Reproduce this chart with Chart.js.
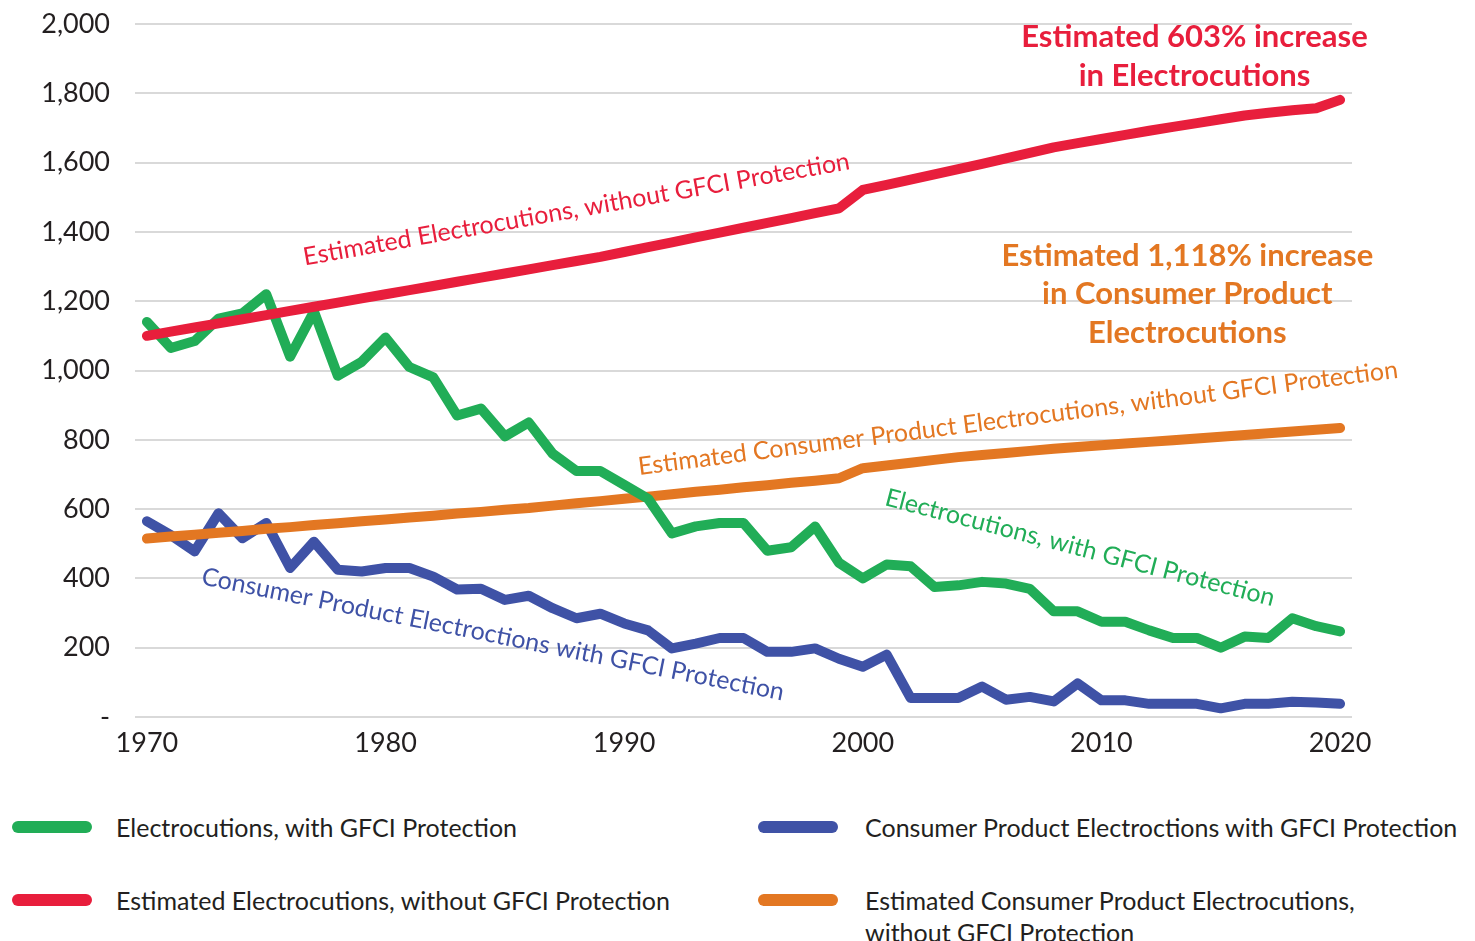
<!DOCTYPE html>
<html>
<head>
<meta charset="utf-8">
<title>Electrocutions with and without GFCI protection</title>
<script src="https://cdn.jsdelivr.net/npm/chart.js@4.4.1/dist/chart.umd.min.js"></script>
<style>
  body { margin: 0; background: #fff; font-family: Lato, sans-serif; }
  #wrap { position: relative; width: 1475px; height: 941px; overflow: hidden; }
  #c { position: absolute; left: 0; top: 0; }
  .lg-text { position: absolute; font-size: 25px; line-height: 32px; color: #231f20; white-space: nowrap; }
  .lg-swatch { position: absolute; width: 80px; height: 12px; border-radius: 6px; }
</style>
</head>
<body>
<div id="wrap">
  <canvas id="c" width="1475" height="780"></canvas>
  <div id="legend"></div>
</div>
<script>
// ---- data ----
var years = ['1970','1971','1972','1973','1974','1975','1976','1977','1978','1979',
             '1980','1981','1982','1983','1984','1985','1986','1987','1988','1989',
             '1990','1991','1992','1993','1994','1995','1996','1997','1998','1999',
             '2000','2001','2002','2003','2004','2005','2006','2007','2008','2009',
             '2010','2011','2012','2013','2014','2015','2016','2017','2018','2019','2020'];

var xTickLabels = ['1970', '1980', '1990', '2000', '2010', '2020'];
var yTickLabels = ['-', '200', '400', '600', '800', '1,000', '1,200', '1,400', '1,600', '1,800', '2,000'];

var withGfci = [1140, 1065, 1085, 1150, 1165, 1220, 1040, 1170, 985, 1025,
                1095, 1010, 980, 870, 890, 810, 850, 760, 710, 710,
                670, 630, 530, 550, 560, 560, 480, 490, 550, 445,
                400, 440, 435, 375, 380, 390, 385, 370, 305, 305,
                275, 275, 250, 228, 228, 200, 232, 228, 285, 262, 247];

var withoutGfci = [1100, 1112, 1124, 1136, 1148, 1160, 1172, 1184, 1196, 1208,
                   1220, 1232, 1244, 1256, 1268, 1280, 1292, 1304, 1316, 1328,
                   1342, 1356, 1370, 1384, 1398, 1412, 1426, 1440, 1454, 1468,
                   1521, 1536, 1551, 1566, 1581, 1596, 1612, 1628, 1644, 1656,
                   1668, 1680, 1692, 1703, 1714, 1725, 1736, 1744, 1751, 1757, 1781];

var consumerWithGfci = [565, 525, 478, 588, 516, 560, 430, 506, 425, 420,
                        430, 430, 405, 368, 370, 338, 350, 314, 285, 298,
                        270, 250, 198, 212, 228, 228, 188, 188, 198, 168,
                        145, 180, 55, 55, 55, 88, 50, 58, 45, 97,
                        48, 48, 38, 38, 38, 25, 38, 38, 44, 42, 38];

var consumerWithoutGfci = [515, 521, 526, 532, 537, 543, 548, 554, 559, 565,
                           570, 576, 581, 587, 592, 598, 603, 610, 617, 623,
                           630, 636, 643, 650, 656, 663, 669, 676, 682, 689,
                           718, 726, 734, 742, 750, 756, 762, 768, 774, 779,
                           784, 789, 794, 799, 804, 809, 814, 819, 824, 829, 834];

var GREEN = '#21ad57', RED = '#e81e3c', BLUE = '#3f52a6', ORANGE = '#e37722';
var TEXT = '#231f20';

// labels written along the lines (x = year index, y = value)
var lineLabels = [
  { text: 'Estimated Electrocutions, without GFCI Protection', color: RED, x: 18.0, y: 1465, angle: -10 },
  { text: 'Estimated Consumer Product Electrocutions, without GFCI Protection', color: ORANGE, x: 36.5, y: 862, angle: -7.3 },
  { text: 'Electrocutions, with GFCI Protection', color: GREEN, x: 39.1, y: 488, angle: 14.6 },
  { text: 'Consumer Product Electroctions with GFCI Protection', color: BLUE, x: 14.5, y: 238, angle: 11.3 }
];

var callouts = [
  { lines: ['Estimated 603% increase', 'in Electrocutions'], color: RED, x: 43.9, y: 1962 },
  { lines: ['Estimated 1,118% increase', 'in Consumer Product', 'Electrocutions'], color: ORANGE, x: 43.6, y: 1331 }
];

var textPlugin = {
  id: 'textPlugin',
  afterDatasetsDraw: function (chart) {
    var ctx = chart.ctx, xs = chart.scales.x, ys = chart.scales.y;
    ctx.save();
    ctx.textAlign = 'center';
    ctx.textBaseline = 'middle';
    lineLabels.forEach(function (l) {
      ctx.save();
      ctx.translate(xs.getPixelForValue(l.x), ys.getPixelForValue(l.y));
      ctx.rotate(l.angle * Math.PI / 180);
      ctx.font = '25px Lato';
      ctx.fillStyle = l.color;
      ctx.fillText(l.text, 0, 0);
      ctx.restore();
    });
    callouts.forEach(function (c) {
      var cx = xs.getPixelForValue(c.x), cy = ys.getPixelForValue(c.y);
      ctx.font = 'bold 31px Lato';
      ctx.fillStyle = c.color;
      c.lines.forEach(function (t, i) {
        ctx.fillText(t, cx, cy + i * 38.5);
      });
    });
    ctx.restore();
  }
};

function ds(label, data, color) {
  return {
    label: label, data: data, borderColor: color, backgroundColor: color,
    borderWidth: 10, pointRadius: 0, tension: 0, fill: false,
    borderCapStyle: 'round', borderJoinStyle: 'round'
  };
}

var datasets = [
  ds('Estimated Electrocutions, without GFCI Protection', withoutGfci, RED),
  ds('Electrocutions, with GFCI Protection', withGfci, GREEN),
  ds('Estimated Consumer Product Electrocutions, without GFCI Protection', consumerWithoutGfci, ORANGE),
  ds('Consumer Product Electroctions with GFCI Protection', consumerWithGfci, BLUE)
];

new Chart(document.getElementById('c').getContext('2d'), {
  type: 'line',
  data: { labels: years, datasets: datasets },
  options: {
    responsive: false,
    animation: false,
    layout: { padding: { top: 24, right: 123, bottom: 0, left: 0 } },
    plugins: { legend: { display: false }, tooltip: { enabled: false } },
    scales: {
      x: {
        offset: true,
        grid: { display: false },
        border: { display: false },
        ticks: {
          autoSkip: false, maxRotation: 0, padding: 2, color: TEXT,
          font: { family: 'Lato', size: 27 },
          callback: function (v, i) {
            return xTickLabels.indexOf(years[i]) >= 0 ? years[i] : '';
          }
        },
        afterFit: function (s) { s.height = 63; }
      },
      y: {
        min: 0, max: 2000,
        grid: { color: '#d9d9d9', lineWidth: 2, drawTicks: false },
        border: { display: false },
        ticks: {
          stepSize: 200, padding: 25, color: TEXT,
          font: { family: 'Lato', size: 27 },
          callback: function (v) { return yTickLabels[Math.round(v / 200)]; }
        },
        // fixed axis width; the tick padding should not push the plot down
        afterFit: function (s) { s.width = 135; s.paddingTop = 0; s.paddingBottom = 0; }
      }
    }
  },
  plugins: [textPlugin]
});

// ---- legend (two columns under the chart) ----
var legendLayout = [
  { ds: 1, swatchX: 12, textX: 116, y: 827 },
  { ds: 0, swatchX: 12, textX: 116, y: 900 },
  { ds: 3, swatchX: 758, textX: 865, y: 827 },
  { ds: 2, swatchX: 758, textX: 865, y: 900 }
];
var legendHtml = '';
legendLayout.forEach(function (item) {
  var d = datasets[item.ds];
  // the long orange entry breaks after its comma, as in the original
  var text = item.ds === 2 ? d.label.replace(', ', ',<br>') : d.label;
  legendHtml += '<div class="lg-swatch" style="left:' + item.swatchX + 'px;top:' + (item.y - 6) +
    'px;background:' + d.borderColor + '"></div>';
  legendHtml += '<div class="lg-text" style="left:' + item.textX + 'px;top:' + (item.y - 16) +
    'px">' + text + '</div>';
});
document.getElementById('legend').innerHTML = legendHtml;
</script>
</body>
</html>
